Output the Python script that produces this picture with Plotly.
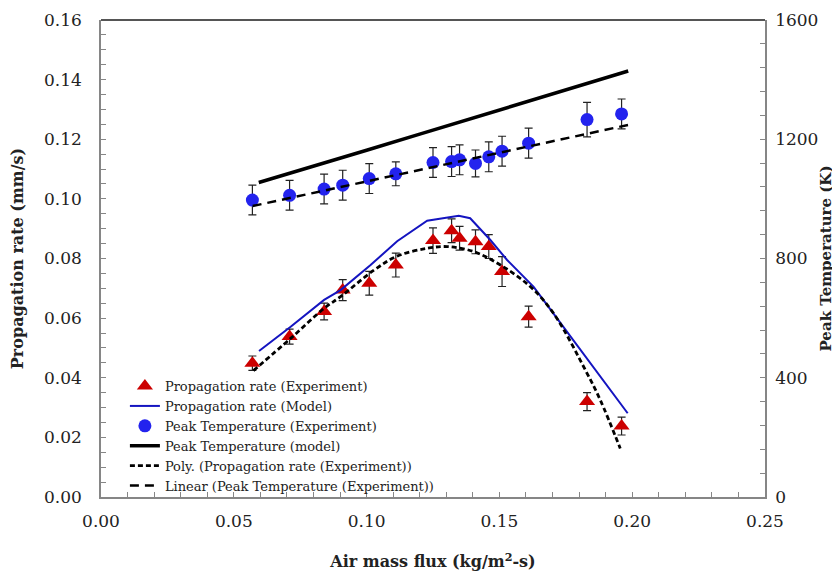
import plotly.graph_objects as go

# Experimental data (shared x)
air_flux = [0.057, 0.071, 0.084, 0.091, 0.101, 0.111, 0.125, 0.132, 0.135, 0.141, 0.146, 0.151, 0.161, 0.183, 0.196]
rate_exp = [0.0449, 0.0538, 0.0622, 0.0694, 0.0717, 0.0778, 0.0860, 0.0893, 0.0868, 0.0856, 0.0840, 0.0756, 0.0605, 0.0320, 0.0238]
rate_err = [0.0024, 0.0025, 0.0028, 0.0035, 0.0040, 0.0040, 0.0043, 0.0040, 0.0040, 0.0040, 0.0040, 0.0050, 0.0035, 0.0030, 0.0030]
temp_exp = [996, 1012, 1033, 1046, 1068, 1084, 1122, 1125, 1131, 1119, 1141, 1160, 1187, 1266, 1285]
temp_err = [50, 50, 50, 50, 50, 40, 50, 50, 50, 45, 50, 50, 50, 58, 50]

# Model: propagation rate
rate_model_x = [0.0595, 0.0714, 0.084, 0.0902, 0.1015, 0.1115, 0.1228, 0.1347, 0.139, 0.1466, 0.1529, 0.1629, 0.1729, 0.1983]
rate_model_y = [0.0490, 0.0571, 0.0661, 0.0694, 0.0778, 0.0858, 0.0927, 0.0943, 0.0935, 0.0862, 0.0795, 0.0705, 0.0585, 0.0281]

# Model: peak temperature
temp_model_x = [0.0594, 0.08, 0.10, 0.12, 0.14, 0.16, 0.18, 0.1985]
temp_model_y = [1055, 1109, 1163, 1217, 1271, 1325, 1379, 1429]

# Trendlines
poly_x = [0.0574, 0.0714, 0.084, 0.0902, 0.1028, 0.1115, 0.1228, 0.1303, 0.1404, 0.1504, 0.1617, 0.1704, 0.183, 0.188, 0.1955]
poly_y = [0.0424, 0.0532, 0.0633, 0.0672, 0.0761, 0.0808, 0.0834, 0.0840, 0.0823, 0.0778, 0.0705, 0.0616, 0.0415, 0.0325, 0.0163]
lin_x = [0.0571, 0.1985]
lin_y = [976, 1248]

SERIF = "DejaVu Serif"
TXT = "#222222"

fig = go.Figure()
fig.add_trace(go.Scatter(
    x=air_flux, y=rate_exp, mode="markers", name="Propagation rate (Experiment)",
    marker=dict(symbol="triangle-up", size=14, color="#CC0000"),
    error_y=dict(type="data", array=rate_err, color="#222222", thickness=1.2, width=4),
    yaxis="y"))
fig.add_trace(go.Scatter(
    x=rate_model_x, y=rate_model_y, mode="lines", name="Propagation rate (Model)",
    line=dict(color="#1414C0", width=2), yaxis="y"))
fig.add_trace(go.Scatter(
    x=air_flux, y=temp_exp, mode="markers", name="Peak Temperature (Experiment)",
    marker=dict(symbol="circle", size=13, color="#2323EE"),
    error_y=dict(type="data", array=temp_err, color="#222222", thickness=1.2, width=4),
    yaxis="y2"))
fig.add_trace(go.Scatter(
    x=temp_model_x, y=temp_model_y, mode="lines", name="Peak Temperature (model)",
    line=dict(color="black", width=3.5), yaxis="y2"))
fig.add_trace(go.Scatter(
    x=poly_x, y=poly_y, mode="lines", name="Poly. (Propagation rate (Experiment))",
    line=dict(color="black", width=2.8, dash="5px,3px", shape="spline"), yaxis="y"))
fig.add_trace(go.Scatter(
    x=lin_x, y=lin_y, mode="lines", name="Linear (Peak Temperature (Experiment))",
    line=dict(color="black", width=2.5, dash="9px,6px"), yaxis="y2"))

axis_common = dict(showline=True, linecolor="#868686", linewidth=1.5,
                   ticks="inside", tickcolor="#868686", ticklen=5,
                   showgrid=False, zeroline=False, automargin=False,
                   tickfont=dict(family=SERIF, size=17, color=TXT))

# the page body has an 8px margin, so the figure is sized to fit the window
fig.update_layout(
    width=832, height=565,
    margin=dict(l=93, r=75, t=12, b=76),
    paper_bgcolor="white", plot_bgcolor="white",
    xaxis=dict(range=[0, 0.25], dtick=0.05, tickformat=".2f",
               minor=dict(dtick=0.01, ticks="inside", ticklen=5, tickcolor="#868686"),
               ticklabelstandoff=8,
               title=dict(text="<b>Air mass flux (kg/m<sup>2</sup>-s)</b>", standoff=26,
                          font=dict(family=SERIF, size=16, color=TXT)),
               **axis_common),
    yaxis=dict(range=[0, 0.16], dtick=0.02, tickformat=".2f",
               minor=dict(dtick=0.005, ticks="inside", ticklen=5, tickcolor="#868686"),
               ticklabelstandoff=14,
               title=dict(text="<b>Propagation rate (mm/s)</b>", standoff=19,
                          font=dict(family=SERIF, size=16, color=TXT)),
               **axis_common),
    yaxis2=dict(range=[0, 1600], dtick=400, overlaying="y", side="right",
                minor=dict(dtick=80, ticks="inside", ticklen=5, tickcolor="#868686"),
                ticklabelstandoff=5,
                title=dict(text="<b>Peak Temperature (K)</b>", standoff=3,
                           font=dict(family=SERIF, size=15, color=TXT)),
                **axis_common),
    legend=dict(x=0.036, y=0.264, xanchor="left", yanchor="top",
                bgcolor="rgba(0,0,0,0)", tracegroupgap=0,
                font=dict(family=SERIF, size=13, color=TXT)),
    showlegend=True,
)
fig.add_shape(type="line", xref="paper", yref="paper", x0=0, x1=1, y0=1, y1=1,
              line=dict(color="#555555", width=2))

fig.write_html("out.html")
